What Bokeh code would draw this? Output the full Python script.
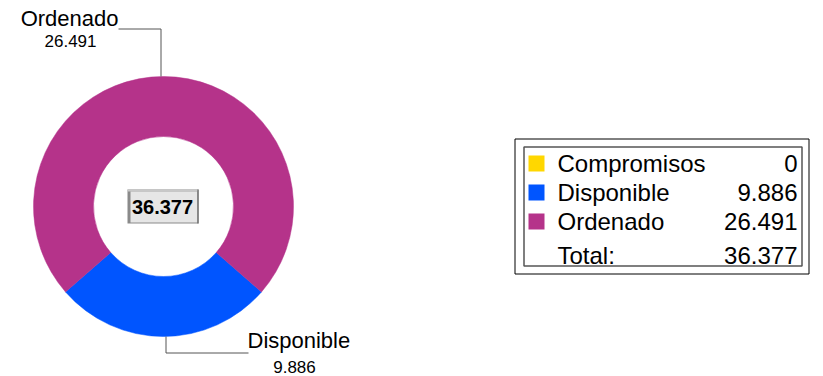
import math
from bokeh.plotting import figure
from bokeh.models import Range1d, ColumnDataSource
from bokeh.core.properties import value
from bokeh.embed import file_html
from bokeh.resources import INLINE

# ---- data ----
categories = ["Compromisos", "Disponible", "Ordenado"]
values = [0, 9.886, 26.491]
value_labels = ["0", "9.886", "26.491"]
colors = ["#FFD700", "#0055FF", "#B5338A"]
total_label = "36.377"
total_text = "Total:"

FONT = "Liberation Sans"
W, H = 823, 376
TEXT_DY = 7  # compensate renderer's baseline offset

def Y(ref_y):
    return H - ref_y

def TY(ref_y):
    return H - ref_y + TEXT_DY

p = figure(width=W, height=H, output_backend="svg", toolbar_location=None,
           x_range=Range1d(0, W), y_range=Range1d(0, H),
           min_border=0, outline_line_color=None,
           background_fill_color="white", border_fill_color="white")
p.axis.visible = False
p.grid.visible = False

# ---- donut ----
cx, cy = 163, Y(206)
r_out, r_in = 130, 70
total = sum(values)
i_disp = categories.index("Disponible")
span_disp = 2 * math.pi * values[i_disp] / total
start = 1.5 * math.pi - span_disp / 2
order = [1, 2, 0]
starts, ends, cols = [], [], []
a = start
for i in order:
    s = 2 * math.pi * values[i] / total
    if s > 0:
        starts.append(a)
        ends.append(a + s)
        cols.append(colors[i])
    a += s
src = ColumnDataSource(dict(x=[cx] * len(starts), y=[cy] * len(starts),
                            start=starts, end=ends, color=cols))
p.annular_wedge(x="x", y="y", inner_radius=r_in, outer_radius=r_out,
                start_angle="start", end_angle="end", fill_color="color",
                line_color="color", line_width=0.5, source=src)

def txt(x, ref_y, s, size, align, bold=False):
    p.text([x], [TY(ref_y)], text=[s], text_font=value(FONT), text_font_size=size,
           text_align=align, text_baseline="alphabetic", text_color="black",
           text_font_style="bold" if bold else "normal")

# ---- leader lines & labels ----
lead_col = "#555555"
x_top = cx - 2.5
p.line([x_top, x_top, 118], [cy + r_out, Y(28.5), Y(28.5)], line_color=lead_col, line_width=1)
txt(118, 25, categories[2], "22px", "right")
txt(70, 47, value_labels[2], "17px", "center")
x_bot = cx + 2.5
p.line([x_bot, x_bot, 248], [cy - r_out, Y(352.5), Y(352.5)], line_color=lead_col, line_width=1)
txt(247, 347, categories[1], "22px", "left")
txt(294, 373, value_labels[1], "17px", "center")

# ---- center total box ----
p.quad(left=[127], right=[198], top=[Y(189)], bottom=[Y(223)],
       fill_color="#8a8a8a", line_color=None)
p.quad(left=[127], right=[198], top=[Y(189)], bottom=[Y(191)],
       fill_color="#c8c8c8", line_color=None)
p.quad(left=[130], right=[197], top=[Y(191)], bottom=[Y(222)],
       fill_color="#e6e6e6", line_color=None)
p.line([197.5, 197.5], [Y(189), Y(223)], line_color="#555555", line_width=1)
txt(162, 213, total_label, "20px", "center", bold=True)

# ---- legend ----
p.quad(left=[514.5], right=[808.5], top=[Y(138.5)], bottom=[Y(273.5)],
       fill_color=None, line_color="black", line_width=1)
p.quad(left=[523.5], right=[801.5], top=[Y(146.5)], bottom=[Y(265.5)],
       fill_color=None, line_color="#555555", line_width=1.5)
row_base = [170, 199, 228]
sq_top = [155, 184, 213]
for i, cat in enumerate(categories):
    p.quad(left=[528], right=[544], top=[Y(sq_top[i])], bottom=[Y(sq_top[i] + 16)],
           fill_color=colors[i], line_color=None)
    txt(557, row_base[i], cat, "24px", "left")
    txt(797, row_base[i], value_labels[i], "24px", "right")
txt(557, 262, total_text, "24px", "left")
txt(797, 262, total_label, "24px", "right")

open("out.html", "w").write(file_html(p, INLINE))
